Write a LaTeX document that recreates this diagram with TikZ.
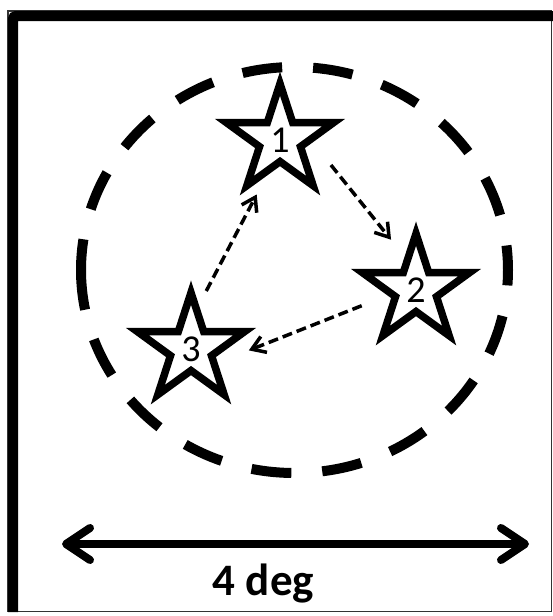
\documentclass[tikz,border=0pt]{standalone}
\usepackage{fontspec}
\setmainfont{Carlito}
\usetikzlibrary{shapes.geometric,arrows.meta}

\begin{document}
\begin{tikzpicture}[x=1pt, y=-1pt,
    starbox/.style={star, star points=5, star point ratio=2.618, draw=black,
                    line width=7.5pt, fill=white, minimum size=112.8pt,
                    inner sep=0pt, outer sep=0pt,
                    font=\fontsize{38}{40}\selectfont},
    hop/.style={-{Straight Barb[length=13pt,width=17pt]}, line width=3.5pt,
                dash pattern=on 10pt off 5pt},
    span/.style={{Straight Barb[length=24pt,width=32pt,round]}-{Straight Barb[length=24pt,width=32pt,round]},
                 line width=8pt}]
  \useasboundingbox (0,0) rectangle (553,616);
  % frame
  \draw[black!80, line width=1.5pt] (8,11) rectangle (551.5,611.5);
  \draw[line width=10pt, rounded corners=3pt] (13,612) -- (13,16) -- (553,16);
  % dashed field
  \draw[line width=10pt, dash pattern=on 40pt off 31pt]
    (81,270) arc[start angle=180, end angle=-180, x radius=213.5, y radius=203];
  % stars
  \node[starbox] (s1) at (280,140) {1};
  \node[starbox] (s2) at (416,290) {2};
  \node[starbox] (s3) at (191,349) {3};
  \draw[hop, shorten <=32.8pt, shorten >=26.1pt] (s1.1.2) -- (s2.106.4);
  \draw[hop, shorten <=32.2pt, shorten >=37.2pt] (s2.189.6) -- (s3.-33.9);
  \draw[hop, shorten <=21pt, shorten >=29pt] (s3.82.7) -- (s1.251.7);
  % scale bar
  \coordinate (wl) at (62,544);
  \coordinate (wr) at (529,544);
  \draw[span] (wl) -- (wr);
  \node[anchor=base, font=\fontsize{45}{48}\selectfont\bfseries] (deg) at (263.5,595) {4 deg};
\end{tikzpicture}
\end{document}
